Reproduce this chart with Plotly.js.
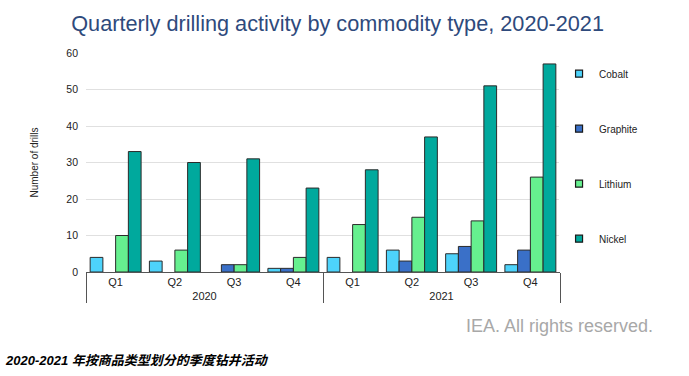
<!DOCTYPE html>
<html><head><meta charset="utf-8">
<script src="https://cdn.plot.ly/plotly-3.0.1.min.js"></script>
<style>html,body{margin:0;padding:0;background:#fff;}#chart{width:689px;height:376px;}</style>
</head><body><div id="chart"></div>
<script>
const years = ["2020","2020","2020","2020","2021","2021","2021","2021"];
const quarters = ["Q1","Q2","Q3","Q4","Q1","Q2","Q3","Q4"];
const cobalt   = [4, 3, 0, 1, 4, 6, 5, 2];
const graphite = [0, 0, 2, 1, 0, 3, 7, 6];
const lithium  = [10, 6, 2, 4, 13, 15, 14, 26];
const nickel   = [33, 30, 31, 23, 28, 37, 51, 57];
const seriesNames = ["Cobalt","Graphite","Lithium","Nickel"];
const colors = ["#4dd3fb","#3a70c8","#66f08f","#00a99d"];
const seriesVals = [cobalt, graphite, lithium, nickel];

// bars (zero values are not drawn, as in the source)
const traces = seriesVals.map((v,i)=>({
  type:"bar", name:seriesNames[i], x:[years, quarters], y:v.map(d=> d===0 ? null : d),
  marker:{color:colors[i], line:{color:"#2a2a2a", width:1}},
  showlegend:false, hoverinfo:"y"
}));
// legend entries with small square symbols (no visible point)
seriesNames.forEach((n,i)=>{
  traces.push({type:"scatter", mode:"markers", name:n, x:[[years[0]],[quarters[0]]], y:[null],
    marker:{symbol:"square", size:7, color:colors[i], line:{color:"#1a1a1a", width:1.2}},
    legendgroup:"g"+i, showlegend:true, hoverinfo:"skip"});
});

const layout = {
  width:689, height:376,
  margin:{l:86, r:129, t:53, b:104},
  paper_bgcolor:"#fff", plot_bgcolor:"#fff",
  font:{family:"Liberation Sans, Arial, sans-serif", size:10, color:"#222"},
  title:{text:"Quarterly drilling activity by commodity type, 2020-2021", x:0.49, xanchor:"center", y:0.937, yanchor:"middle",
         font:{family:"Liberation Sans, Arial, sans-serif", size:21.7, color:"#2e4a7c"}},
  barmode:"group", bargap:0.14, bargroupgap:0,
  xaxis:{type:"multicategory", showline:true, linecolor:"#555", linewidth:1, showgrid:false,
         showdividers:true, dividercolor:"#555", dividerwidth:1, ticks:"", tickfont:{size:11, color:"#222"}},
  yaxis:{range:[0,60], dtick:10, showgrid:true, gridcolor:"#e0e0e0", zeroline:false, showline:false,
         tickfont:{size:10.5, color:"#222"}, ticklabelstandoff:7,
         title:{text:"Number of drills", font:{size:10, color:"#222"}, standoff:25}},
  legend:{x:0.998, xanchor:"left", y:0.972, yanchor:"top", traceorder:"grouped", tracegroupgap:36,
          font:{size:10, color:"#222"}, itemwidth:30},
  showlegend:true,
  annotations:[
    {text:"IEA. All rights reserved.", xref:"paper", yref:"paper", x:1.2, xanchor:"right", y:-0.245, yanchor:"middle",
     showarrow:false, font:{family:"Liberation Sans, Arial, sans-serif", size:18, color:"#a8a8a8"}},
    {text:"<i><b>2020-2021 年按商品类型划分的季度钻井活动</b></i>", xref:"paper", yref:"paper", x:-0.175, xanchor:"left", y:-0.405, yanchor:"middle",
     showarrow:false, font:{family:"Liberation Sans, Noto Sans CJK SC, sans-serif", size:13, color:"#000"}}
  ]
};
Plotly.newPlot("chart", traces, layout, {displayModeBar:false, staticPlot:true});
</script></body></html>
